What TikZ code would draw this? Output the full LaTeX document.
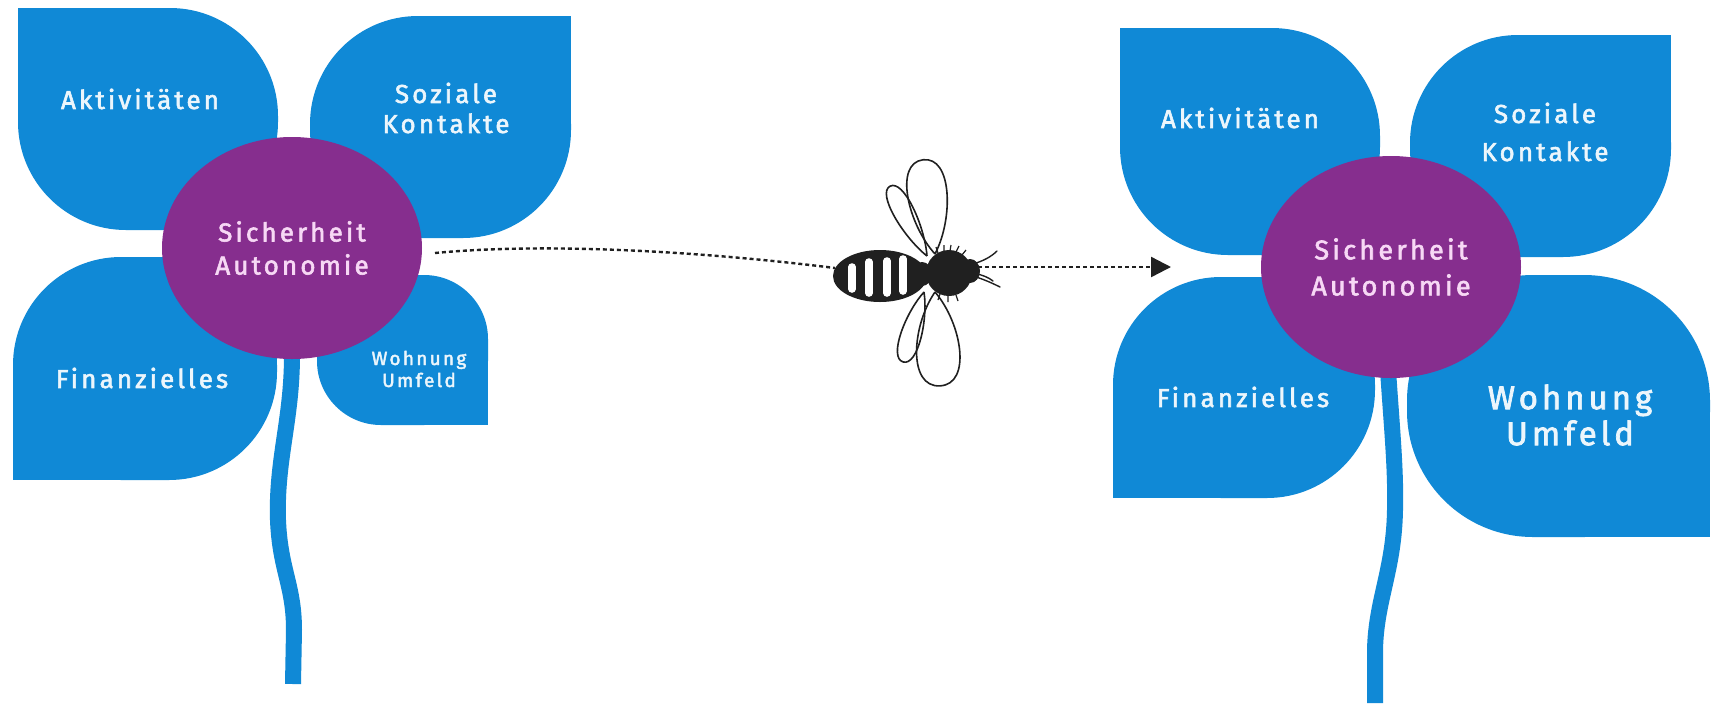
\documentclass[tikz,border=0pt]{standalone}
\usepackage{fontspec}
\usetikzlibrary{shapes.geometric,arrows.meta}
\newfontfamily\petalfont[LetterSpace=12,FakeBold=2.2]{Fira Sans}
\definecolor{petalblue}{RGB}{16,137,214}
\definecolor{heartpurple}{RGB}{134,46,142}
\definecolor{hearttext}{RGB}{247,216,245}
\definecolor{petaltext}{RGB}{236,246,252}
\definecolor{beeink}{RGB}{32,32,32}
\begin{document}
\begin{tikzpicture}[x=0.5pt,y=-0.5pt,
  petal/.style={fill=petalblue},
  leaf/.style={fill=petalblue, rounded corners=54pt},
  stem/.style={draw=petalblue, line width=8pt},
  heart/.style={ellipse, fill=heartpurple, inner sep=0pt, minimum width=130pt,
    minimum height=111pt, text=hearttext, align=center},
  lbl/.style={text=petaltext, align=center, inner sep=0pt},
  flight/.style={draw=beeink, line width=1.2pt, dash pattern=on 2pt off 1.5pt},
  wingline/.style={draw=beeink, line width=0.8pt},
  pics/wing/.style 2 args={code={
    \draw[wingline] (0,0) .. controls ({0.35*#1},{1.1*#2}) and ({#1},{1.4*#2}) .. (#1,0)
      .. controls ({#1},{-1.4*#2}) and ({0.35*#1},{-1.1*#2}) .. (0,0);
  }}
]
\useasboundingbox (0,0) rectangle (1715,703);
\fill[white] (0,0) rectangle (1715,703);

% ---------- left flower ----------
\fill[leaf] (18,8) rectangle (278,230);     \fill[petal] (18,8) rectangle (148,119);
\fill[leaf] (310,16) rectangle (571,238);   \fill[petal] (440,16) rectangle (571,127);
\fill[leaf] (13,257) rectangle (277,480);   \fill[petal] (13,368) rectangle (145,480);
\fill[leaf, rounded corners=32pt] (317,275) rectangle (488,425);
\fill[petal] (402,350) rectangle (488,425);
\draw[stem] (292,355) .. controls (292,420) and (276,460) .. (278,520)
  .. controls (280,570) and (294,585) .. (294,630) -- (293,684);
\node[heart, font={\petalfont\fontsize{13}{16.5}\selectfont}] (heartL) at (292,248)
  {Sicherheit\\Autonomie};
\node[lbl, font={\petalfont\fontsize{13}{15}\selectfont}] (aktL) at (140,99) {Aktivitäten};
\node[lbl, font={\petalfont\fontsize{13}{15}\selectfont}] (sozL) at (446,108) {Soziale\\Kontakte};
\node[lbl, font={\petalfont\fontsize{13}{15}\selectfont}] (finL) at (142,378) {Finanzielles};
\node[lbl, font={\petalfont\fontsize{9.5}{11}\selectfont}] (wohL) at (419,369) {Wohnung\\Umfeld};

% ---------- right flower ----------
\fill[leaf] (1120,28) rectangle (1380,255);  \fill[petal] (1120,28) rectangle (1250,141);
\fill[leaf] (1410,35) rectangle (1671,257);  \fill[petal] (1540,35) rectangle (1671,146);
\fill[leaf] (1113,277) rectangle (1375,498); \fill[petal] (1113,388) rectangle (1244,498);
\fill[leaf, rounded corners=63pt] (1407,275) rectangle (1710,537);
\fill[petal] (1558,406) rectangle (1710,537);
\draw[stem] (1388,370) .. controls (1392,430) and (1396,470) .. (1395,510)
  .. controls (1394,570) and (1376,600) .. (1375,650) -- (1375,703);
\node[heart, font={\petalfont\fontsize{13.5}{18}\selectfont}] (heartR) at (1391,267)
  {Sicherheit\\Autonomie};
\node[lbl, font={\petalfont\fontsize{13}{15}\selectfont}] (aktR) at (1240,118) {Aktivitäten};
\node[lbl, font={\petalfont\fontsize{13}{19}\selectfont}] (sozR) at (1545,132) {Soziale\\Kontakte};
\node[lbl, font={\petalfont\fontsize{13}{15}\selectfont}] (finR) at (1243,397) {Finanzielles};
\node[lbl, font={\petalfont\fontsize{16.5}{18}\selectfont}] (wohR) at (1570,415) {Wohnung\\Umfeld};

% ---------- flight path ----------
\coordinate (flightstart) at (435,253);
\coordinate (beetail) at (835,268);
\coordinate (beehead) at (978,267);
\coordinate (flightend) at (1171,267);
\draw[flight] (flightstart) .. controls (540,243) and (690,250) .. (beetail);
\draw[flight, -{Triangle[length=10pt,width=10pt]}] (beehead) -- (flightend);

% ---------- bee ----------
\pic[rotate=97.3]  at (935,254) {wing={95}{21}};
\pic[rotate=117.9] at (927,256) {wing={79}{11}};
\pic[rotate=-87]   at (935,292) {wing={94}{23}};
\pic[rotate=-106.7] at (924,292) {wing={73}{11}};
% abdomen with stripes
\fill[beeink] (880,276) ellipse [x radius=23.5pt, y radius=13pt];
\foreach \sx/\sa/\sb in {852/267/289, 869/262/293, 887/261/293, 903/259/291}
  \draw[white, line width=3.8pt, line cap=round] (\sx,\sa) -- (\sx,\sb);
% waist, thorax, head
\fill[beeink] (922,274) ellipse [x radius=5pt, y radius=6pt];
\fill[beeink] (949,273) circle [radius=11.5pt];
\fill[beeink] (970,271) ellipse [x radius=5pt, y radius=6pt];
\draw[beeink, line width=0.6pt]
  (938,253) -- (936,247) (944,251) -- (944,245) (950,251) -- (951,245)
  (956,252) -- (959,246) (962,255) -- (966,250)
  (940,294) -- (938,300) (948,296) -- (948,302) (956,295) -- (958,301);
% antennae
\draw[beeink, line width=0.7pt, line cap=round]
  (973,264) .. controls (983,261) and (991,257) .. (997,251)
  (973,276) .. controls (983,279) and (992,283) .. (1000,287)
  (974,273) .. controls (982,275) and (988,277) .. (993,281);
\end{tikzpicture}
\end{document}
